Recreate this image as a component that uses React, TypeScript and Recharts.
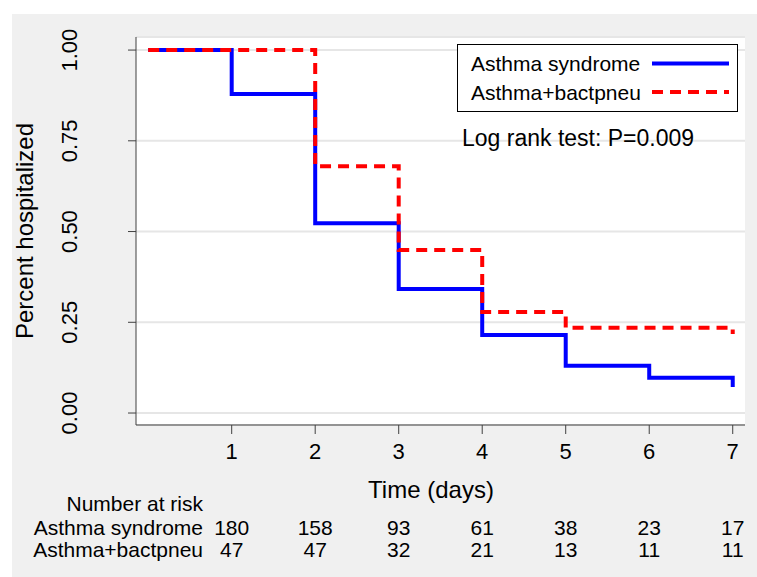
import React from 'react';
import { LineChart, Line, XAxis, YAxis, CartesianGrid, Legend, Customized } from 'recharts';

// Kaplan-Meier estimates (last point repeats day 7 for the final drop)
const times = [0, 1, 2, 3, 4, 5, 6, 7, 7];
const asthmaSyndrome = [1, 0.879, 0.523, 0.342, 0.215, 0.13, 0.097, 0.097, 0.072];
const asthmaBact = [1, 1, 0.68, 0.449, 0.278, 0.235, 0.235, 0.235, 0.218];

const dayTicks = [1, 2, 3, 4, 5, 6, 7];
const yTicks = [0, 0.25, 0.5, 0.75, 1];
const riskSyndrome = [180, 158, 93, 61, 38, 23, 17];
const riskBact = [47, 47, 32, 21, 13, 11, 11];

const seriesNames = ['Asthma syndrome', 'Asthma+bactpneu'];

const data = times.map((t, i) => ({
  t,
  syndrome: asthmaSyndrome[i],
  bact: asthmaBact[i],
}));

const FONT = '"Liberation Sans", Arial, Helvetica, sans-serif';

const XTick = ({ x, payload }: any) => {
  const i = dayTicks.indexOf(payload.value);
  return (
    <g fontFamily={FONT} fill="#000">
      <text x={x} y={459} textAnchor="middle" fontSize={22}>{payload.value}</text>
      <text x={x} y={535} textAnchor="middle" fontSize={21}>{riskSyndrome[i]}</text>
      <text x={x} y={557} textAnchor="middle" fontSize={21}>{riskBact[i]}</text>
    </g>
  );
};

const YTick = ({ y, payload }: any) => (
  <text
    x={77}
    y={y}
    transform={`rotate(-90, 77, ${y})`}
    textAnchor="middle"
    fontSize={22}
    fontFamily={FONT}
    fill="#000"
  >
    {payload.value.toFixed(2)}
  </text>
);

const LegendBox = () => (
  <svg width={281} height={68} style={{ display: 'block' }}>
    <rect x={0.5} y={0.5} width={280} height={67} fill="#fff" stroke="#000" strokeWidth={1} />
    <text x={14} y={27} fontSize={21} fontFamily={FONT} fill="#000">{seriesNames[0]}</text>
    <line x1={195} x2={272} y1={19.5} y2={19.5} stroke="#0000ff" strokeWidth={4} />
    <text x={14} y={56} fontSize={21} fontFamily={FONT} fill="#000">{seriesNames[1]}</text>
    <line x1={195} x2={272} y1={48} y2={48} stroke="#ff0000" strokeWidth={4} strokeDasharray="11 7" />
  </svg>
);

const Annotations = () => (
  <g fontFamily={FONT} fill="#000">
    <text x={462} y={146} fontSize={23}>Log rank test: P=0.009</text>
    <text x={431} y={498} textAnchor="middle" fontSize={24}>Time (days)</text>
    <text x={203} y={511} textAnchor="end" fontSize={21}>Number at risk</text>
    <text x={203} y={535} textAnchor="end" fontSize={21}>{seriesNames[0]}</text>
    <text x={203} y={557} textAnchor="end" fontSize={21}>{seriesNames[1]}</text>
    <text
      x={33}
      y={231}
      transform="rotate(-90, 33, 231)"
      textAnchor="middle"
      fontSize={24}
    >
      Percent hospitalized
    </text>
  </g>
);

export default function App() {
  return (
    <div style={{ position: 'absolute', left: 0, top: 0, width: 757, height: 577, background: '#fff' }}>
      <div style={{ position: 'absolute', left: 12, top: 14, right: 0, bottom: 0, background: '#f0f0f0' }} />
      <div style={{ position: 'absolute', left: 0, top: 0 }}>
        <LineChart width={757} height={577} data={data} margin={{ top: 37, right: 12, bottom: 0, left: 0 }}>
          <CartesianGrid horizontal vertical={false} fill="#fff" stroke="#e6e6e6" strokeWidth={2} />
          <XAxis
            dataKey="t"
            type="number"
            domain={[-0.146, 7.147]}
            ticks={dayTicks}
            height={152}
            tickSize={9}
            axisLine={{ stroke: '#404040' }}
            tickLine={{ stroke: '#404040' }}
            tick={<XTick />}
            allowDataOverflow
          />
          <YAxis
            type="number"
            domain={[-0.033, 1.036]}
            ticks={yTicks}
            width={136}
            tickSize={8}
            axisLine={{ stroke: '#404040' }}
            tickLine={{ stroke: '#404040' }}
            tick={<YTick />}
            allowDataOverflow
          />
          <Line
            type="stepAfter"
            dataKey="syndrome"
            name={seriesNames[0]}
            stroke="#0000ff"
            strokeWidth={4}
            dot={false}
            isAnimationActive={false}
          />
          <Line
            type="stepAfter"
            dataKey="bact"
            name={seriesNames[1]}
            stroke="#ff0000"
            strokeWidth={4}
            strokeDasharray="11 7"
            dot={false}
            isAnimationActive={false}
          />
          <Legend
            layout="vertical"
            align="center"
            verticalAlign="middle"
            content={<LegendBox />}
            wrapperStyle={{ position: 'absolute', left: 457, top: 44, width: 281, height: 68 }}
          />
          <Customized component={<Annotations />} />
        </LineChart>
      </div>
    </div>
  );
}
